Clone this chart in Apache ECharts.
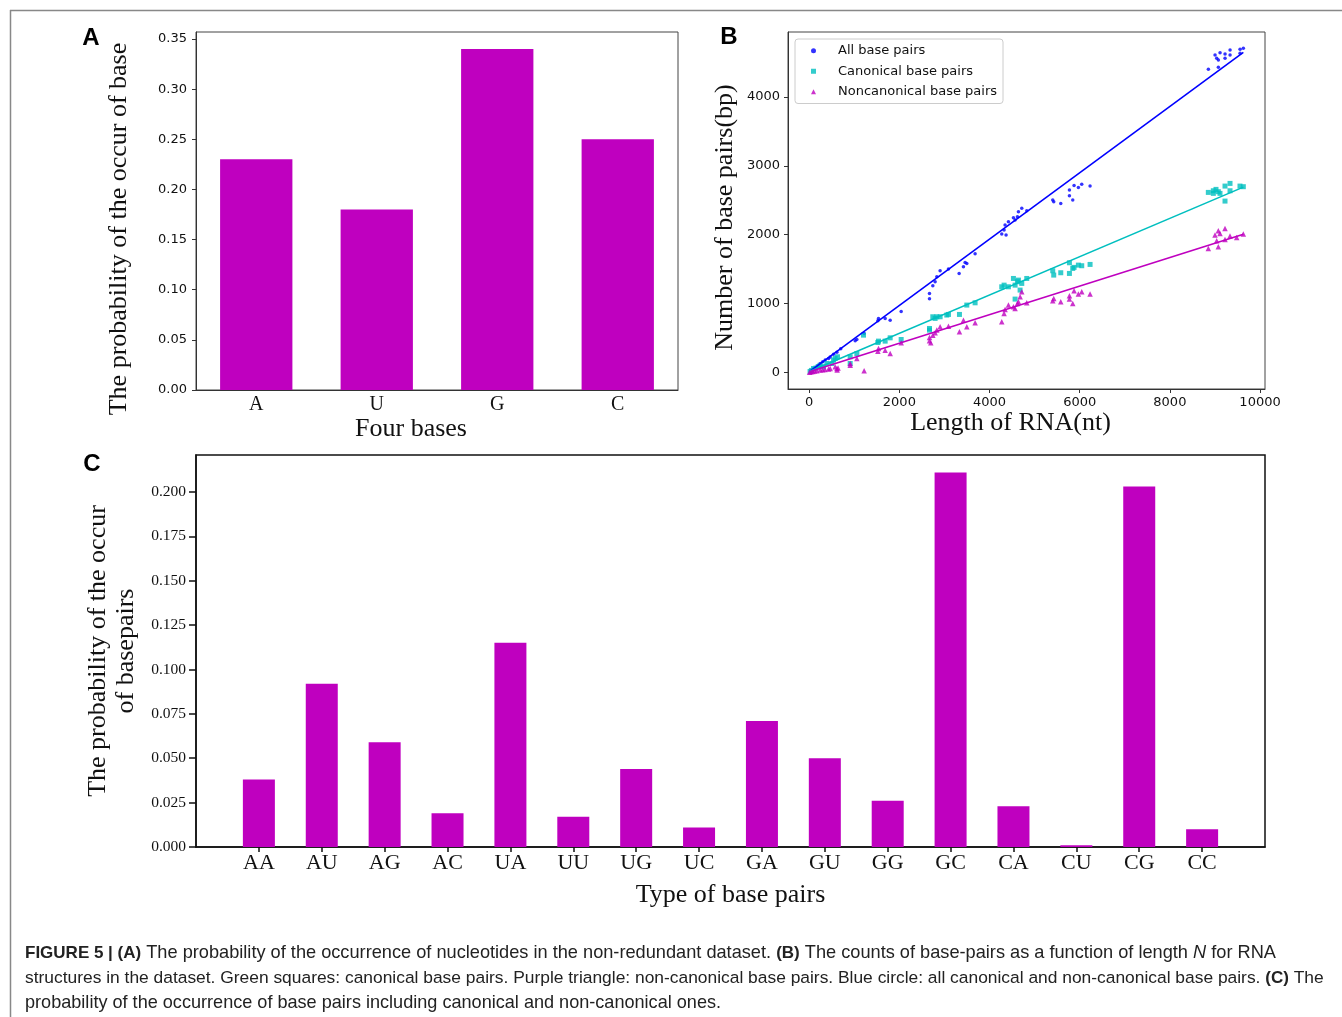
<!DOCTYPE html>
<html>
<head>
<meta charset="utf-8">
<script src="https://cdn.jsdelivr.net/npm/echarts@6/dist/echarts.min.js"></script>
<style>
  html, body { margin: 0; padding: 0; background: #fff; }
  #chart { width: 1342px; height: 1017px; }
</style>
</head>
<body>
<div id="chart"></div>
<script>
// panel A: nucleotide frequencies
var baseCats = ['A', 'U', 'G', 'C'];
var baseProb = [0.23, 0.18, 0.34, 0.25];

// panel C: base pair frequencies
var pairCats = ['AA', 'AU', 'AG', 'AC', 'UA', 'UU', 'UG', 'UC', 'GA', 'GU', 'GG', 'GC', 'CA', 'CU', 'CG', 'CC'];
var pairProb = [0.038, 0.092, 0.059, 0.019, 0.115, 0.017, 0.044, 0.011, 0.071, 0.050, 0.026, 0.211, 0.023, 0.001, 0.203, 0.010];

// panel B: [length (nt), number of base pairs]
var allPairs = [
  [30, 15], [60, 30], [96, 50], [130, 65], [170, 78], [200, 100], [244, 126], [300, 150], [355, 175],
  [429, 199], [466, 220], [540, 260], [614, 290], [700, 340], [1020, 456], [1057, 475], [1219, 562],
  [1523, 747], [1537, 781], [1685, 781], [1796, 756], [2040, 882],
  [2668, 1067], [2668, 1144], [2742, 1256], [2793, 1314], [2831, 1387], [2904, 1474], [3089, 1498],
  [3326, 1435], [3421, 1532], [3458, 1595], [3496, 1581], [3680, 1721],
  [4271, 2007], [4367, 1993], [4323, 2065], [4345, 2138], [4419, 2187], [4567, 2211], [4530, 2245],
  [4619, 2259], [4641, 2332], [4715, 2381], [4826, 2347],
  [5402, 2502], [5424, 2478], [5580, 2453], [5772, 2647], [5772, 2565], [5846, 2502], [5875, 2715],
  [5971, 2686], [6045, 2730], [6230, 2705],
  [8854, 4403], [9002, 4611], [9113, 4645], [9224, 4625], [9335, 4684], [9335, 4611], [9224, 4562],
  [9076, 4538], [9039, 4562], [9076, 4432], [9557, 4694], [9630, 4708], [9557, 4636]
];
var canonicalPairs = [
  [20, 10], [50, 25], [96, 53], [150, 60], [200, 80], [244, 100], [317, 78], [392, 126], [503, 126],
  [540, 175], [576, 199], [628, 223], [909, 126], [909, 223], [1057, 271], [1205, 538],
  [1523, 431], [1537, 451], [1685, 451], [1796, 499], [2040, 475],
  [2668, 611], [2668, 635], [2742, 805], [2793, 781], [2831, 805], [2904, 805], [3052, 830], [3089, 839],
  [3333, 839], [3496, 975], [3680, 1008],
  [4271, 1241], [4323, 1265], [4419, 1241], [4567, 1265], [4530, 1362], [4619, 1314], [4641, 1338],
  [4678, 1193], [4715, 1290], [4826, 1362], [4567, 1062],
  [5402, 1474], [5424, 1411], [5580, 1445], [5772, 1590], [5772, 1435], [5846, 1508], [5875, 1523],
  [5971, 1556], [6045, 1547], [6230, 1566],
  [8853, 2613], [8964, 2637], [8964, 2599], [9023, 2657], [9075, 2623], [9112, 2599], [9223, 2705],
  [9223, 2487], [9334, 2744], [9334, 2637], [9555, 2705], [9629, 2696]
];
var noncanonicalPairs = [
  [10, 0], [40, 5], [80, 10], [120, 15], [170, 20], [244, 30], [300, 35], [350, 40], [430, 45],
  [466, 53], [576, 78], [614, 53], [620, 30], [640, 60], [909, 102], [909, 126], [1057, 199], [1219, 19],
  [1523, 305], [1537, 344], [1685, 320], [1796, 271], [2040, 427],
  [2668, 456], [2668, 504], [2697, 427], [2742, 538], [2793, 572], [2831, 611], [2904, 659], [3089, 669],
  [3333, 586], [3421, 756], [3496, 659], [3680, 717],
  [4271, 732], [4323, 854], [4345, 912], [4419, 975], [4567, 926], [4530, 950], [4619, 999],
  [4641, 1023], [4678, 1096], [4715, 1168], [4826, 1010],
  [5402, 1037], [5424, 1072], [5580, 1023], [5772, 1110], [5772, 1062], [5846, 999], [5875, 1183],
  [5971, 1135], [6045, 1168], [6230, 1135],
  [8853, 1799], [9001, 1993], [9039, 1910], [9075, 2056], [9075, 1823], [9112, 2017], [9223, 2090],
  [9223, 1930], [9334, 1978], [9482, 1959], [9629, 2007]
];
// fitted lines, end points
var fitLen = [20, 9630];
var fitAll = [15, 4650];
var fitCan = [12, 2690];
var fitNon = [8, 2005];

var lenTicks = [0, 2000, 4000, 6000, 8000, 10000];
var bpTicks = [0, 1000, 2000, 3000, 4000];

var MAG = '#bf00bf', CYAN = '#00bfbf', BLUE = '#0000ff';
var SERIF = 'Liberation Serif';
var SANS = 'DejaVu Sans';

function pairsOf(xs, ys) {
  return xs.map(function (x, i) { return [x, ys[i]]; });
}
var pairIdx = pairCats.map(function (c, i) { return i; });

var option = {
  backgroundColor: '#fff',
  animation: false,
  grid: [
    { left: 196, top: 32, width: 482, height: 358, show: true, borderColor: '#444', borderWidth: 1 },
    { left: 788, top: 32, width: 477, height: 357, show: true, borderColor: '#444', borderWidth: 1 },
    { left: 196, top: 455, width: 1069, height: 392, show: true, borderColor: '#111', borderWidth: 1.5 }
  ],
  legend: {
    left: 795, top: 39, orient: 'vertical',
    itemWidth: 5, itemHeight: 5, itemGap: 5,
    padding: [4, 6, 4, 16],
    borderColor: '#ccc', borderWidth: 1, borderRadius: 3,
    textStyle: { fontFamily: SANS, fontSize: 13, color: '#111', padding: [1, 0, 0, 17], lineHeight: 14.5 },
    data: [
      { name: 'All base pairs', icon: 'circle' },
      { name: 'Canonical base pairs', icon: 'rect' },
      { name: 'Noncanonical base pairs', icon: 'triangle' }
    ]
  },
  xAxis: [
    {
      gridIndex: 0, type: 'category', data: baseCats,
      axisLine: { lineStyle: { color: '#333' } },
      axisTick: { alignWithLabel: true, length: 4, lineStyle: { color: '#333' } },
      axisLabel: { fontFamily: SERIF, fontSize: 20, color: '#111', margin: 5 },
      name: 'Four bases', nameLocation: 'middle', nameGap: 19,
      nameTextStyle: { fontFamily: SERIF, fontSize: 26, color: '#111', padding: [0, 52, 0, 0] }
    },
    {
      gridIndex: 1, type: 'value', min: -470, max: 10110,
      splitLine: { show: false },
      axisLine: { onZero: false, lineStyle: { color: '#333' } },
      axisTick: { length: 4, customValues: lenTicks, lineStyle: { color: '#333' } },
      axisLabel: { fontFamily: SANS, fontSize: 13, color: '#111', margin: 7, customValues: lenTicks,
        formatter: function (v) { return String(v); } },
      name: 'Length of RNA(nt)', nameLocation: 'middle', nameGap: 21,
      nameTextStyle: { fontFamily: SERIF, fontSize: 26, color: '#111', padding: [0, 32, 0, 0] }
    },
    {
      gridIndex: 2, type: 'value', min: -1, max: 16,
      splitLine: { show: false },
      axisLine: { onZero: false, lineStyle: { color: '#111', width: 1.5 } },
      axisTick: { length: 5, customValues: pairIdx, lineStyle: { color: '#111', width: 1.5 } },
      axisLabel: {
        fontFamily: SERIF, fontSize: 22, color: '#111', margin: 5,
        customValues: pairIdx,
        formatter: function (v) { return pairCats[Math.round(v)] || ''; }
      },
      name: 'Type of base pairs', nameLocation: 'middle', nameGap: 35,
      nameTextStyle: { fontFamily: SERIF, fontSize: 26, color: '#111' }
    }
  ],
  yAxis: [
    {
      gridIndex: 0, type: 'value', min: 0, max: 0.357, interval: 0.05,
      splitLine: { show: false },
      axisLine: { show: true, lineStyle: { color: '#333' } },
      axisTick: { show: true, length: 4, lineStyle: { color: '#333' } },
      axisLabel: { fontFamily: SANS, fontSize: 13, color: '#111', margin: 9, showMaxLabel: false,
        formatter: function (v) { return v.toFixed(2); } },
      name: 'The probability of the occur of base', nameLocation: 'middle', nameGap: 64,
      nameTextStyle: { fontFamily: SERIF, fontSize: 26, color: '#111', padding: [0, 36, 0, 0] }
    },
    {
      gridIndex: 1, type: 'value', min: -245, max: 4945,
      splitLine: { show: false },
      axisLine: { show: true, onZero: false, lineStyle: { color: '#333' } },
      axisTick: { show: true, length: 4, customValues: bpTicks, lineStyle: { color: '#333' } },
      axisLabel: { fontFamily: SANS, fontSize: 13, color: '#111', margin: 8, customValues: bpTicks,
        formatter: function (v) { return String(v); } },
      name: 'Number of base pairs(bp)', nameLocation: 'middle', nameGap: 50,
      nameTextStyle: { fontFamily: SERIF, fontSize: 26, color: '#111', padding: [0, 14, 0, 0] }
    },
    {
      gridIndex: 2, type: 'value', min: 0, max: 0.2208, interval: 0.025,
      splitLine: { show: false },
      axisLine: { show: true, onZero: false, lineStyle: { color: '#111', width: 1.5 } },
      axisTick: { show: true, length: 7, lineStyle: { color: '#111', width: 1.5 } },
      axisLabel: { fontFamily: SERIF, fontSize: 15.5, color: '#111', margin: 10, showMaxLabel: false,
        formatter: function (v) { return v.toFixed(3); } },
      name: 'The probability of the occur\nof basepairs', nameLocation: 'middle', nameGap: 50,
      nameTextStyle: { fontFamily: SERIF, fontSize: 26, color: '#111', lineHeight: 28 }
    }
  ],
  series: [
    {
      type: 'bar', xAxisIndex: 0, yAxisIndex: 0, data: baseProb, barWidth: '60%',
      itemStyle: { color: MAG }
    },
    {
      name: 'All base pairs', type: 'scatter', xAxisIndex: 1, yAxisIndex: 1,
      data: allPairs, symbol: 'circle', symbolSize: 3.5, itemStyle: { color: BLUE }
    },
    {
      name: 'Canonical base pairs', type: 'scatter', xAxisIndex: 1, yAxisIndex: 1,
      data: canonicalPairs, symbol: 'rect', symbolSize: 5, itemStyle: { color: CYAN }
    },
    {
      name: 'Noncanonical base pairs', type: 'scatter', xAxisIndex: 1, yAxisIndex: 1,
      data: noncanonicalPairs, symbol: 'triangle', symbolSize: 5.5, itemStyle: { color: MAG }
    },
    {
      name: 'fit all', type: 'line', xAxisIndex: 1, yAxisIndex: 1, data: pairsOf(fitLen, fitAll),
      symbol: 'none', lineStyle: { color: BLUE, width: 1.6 }
    },
    {
      name: 'fit canonical', type: 'line', xAxisIndex: 1, yAxisIndex: 1, data: pairsOf(fitLen, fitCan),
      symbol: 'none', lineStyle: { color: CYAN, width: 1.6 }
    },
    {
      name: 'fit noncanonical', type: 'line', xAxisIndex: 1, yAxisIndex: 1, data: pairsOf(fitLen, fitNon),
      symbol: 'none', lineStyle: { color: MAG, width: 1.6 }
    },
    {
      type: 'bar', xAxisIndex: 2, yAxisIndex: 2, barWidth: 32,
      data: pairProb.map(function (v, i) { return [i, v]; }),
      itemStyle: { color: MAG }
    }
  ],
  graphic: [
    { type: 'line', shape: { x1: 10, y1: 10.5, x2: 1342, y2: 10.5 }, style: { stroke: '#888', lineWidth: 1.5 } },
    { type: 'line', shape: { x1: 10.5, y1: 10, x2: 10.5, y2: 1017 }, style: { stroke: '#888', lineWidth: 1.5 } },
    { type: 'text', x: 91, y: 38, style: { text: 'A', font: 'bold 24px "Liberation Sans"', fill: '#000', align: 'center', verticalAlign: 'middle' } },
    { type: 'text', x: 729, y: 37, style: { text: 'B', font: 'bold 24px "Liberation Sans"', fill: '#000', align: 'center', verticalAlign: 'middle' } },
    { type: 'text', x: 92, y: 464, style: { text: 'C', font: 'bold 24px "Liberation Sans"', fill: '#000', align: 'center', verticalAlign: 'middle' } }
  ]
};

var captionLines = [
  '{b|FIGURE 5 | (A)} The probability of the occurrence of nucleotides in the non-redundant dataset. {b|(B)} The counts of base-pairs as a function of length {i|N} for RNA',
  'structures in the dataset. Green squares: canonical base pairs. Purple triangle: non-canonical base pairs. Blue circle: all canonical and non-canonical base pairs. {b|(C)} The',
  'probability of the occurrence of base pairs including canonical and non-canonical ones.'
];
var captionSizes = [18.2, 17.4, 18.1];
captionLines.forEach(function (line, k) {
  var fs = captionSizes[k];
  option.graphic.push({
    type: 'text', x: 25, y: 953 + k * 25,
    style: {
      text: line, fontFamily: 'Liberation Sans', fontSize: fs,
      fill: '#222', verticalAlign: 'middle',
      rich: {
        b: { fontFamily: 'Liberation Sans', fontSize: 17, fontWeight: 'bold', fill: '#222' },
        i: { fontFamily: 'Liberation Sans', fontSize: fs, fontStyle: 'italic', fill: '#222' }
      }
    }
  });
});

var myChart = echarts.init(document.getElementById('chart'));
myChart.setOption(option);
</script>
</body>
</html>
